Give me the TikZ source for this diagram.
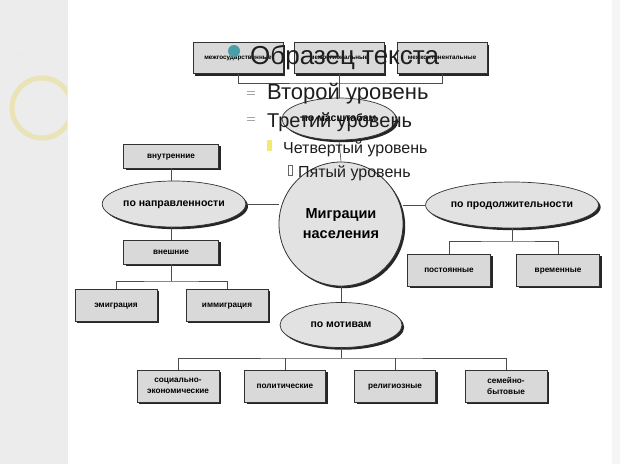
\documentclass[tikz,border=0pt]{standalone}
\usepackage{fontspec}
\setmainfont{Liberation Sans}
\usetikzlibrary{shapes.geometric,shadows}
\definecolor{strip}{HTML}{ECECEC}
\definecolor{ring}{HTML}{E9E3B6}
\definecolor{boxfill}{HTML}{D9D9D9}
\definecolor{ellfill}{HTML}{E2E2E2}
\definecolor{teal}{HTML}{4A9EA6}
\definecolor{txt}{HTML}{1E1E1E}
\tikzset{
  shd/.style={drop shadow={shadow xshift=2.2pt,shadow yshift=-2.2pt,fill=black!85,opacity=1}},
  box/.style={draw=black!80, line width=0.7pt, fill=boxfill, shd, inner sep=1pt, align=center,
    font=\bfseries\fontsize{8.2}{11}\selectfont},
  sbox/.style={box, text height=6pt, text depth=2pt},
  tbox/.style={box, minimum width=90pt, minimum height=31pt, text height=5pt, text depth=1.5pt,
    font=\bfseries\fontsize{6.3}{8}\selectfont},
  ell/.style={ellipse, draw=black!80, line width=0.7pt, fill=ellfill, shd, inner sep=0pt, align=center,
    text height=8pt, text depth=2.5pt, font=\bfseries\fontsize{10.5}{12}\selectfont},
  conn/.style={draw=black!70, line width=0.6pt},
  ph/.style={text=txt, inner sep=0pt, anchor=base west}
}
\begin{document}
\begin{tikzpicture}[x=1pt,y=-1pt]
\useasboundingbox (0,0) rectangle (620,464);
% background
\fill[white] (0,0) rectangle (620,464);
\fill[strip] (0,0) rectangle (68,464);
\fill[black!4] (612,0) rectangle (620,464);
\begin{scope}
\clip (0,0) rectangle (67,464);
\draw[ring, line width=5pt] (42,108) circle (30);
\draw[black!8, line width=0.8pt] (20,0) circle (55);
\end{scope}

% top group
\node[tbox] (b1) at (238,58) {межгосударственные};
\node[tbox] (b2) at (339,58) {межрегиональные};
\node[tbox] (b3) at (442,58) {межконтинентальные};
\node[ell, minimum width=114pt, minimum height=42pt] (te) at (339,119) {по масштабам};
\coordinate (tj) at (339,83);

% centre
\node[circle, draw=black!80, line width=0.8pt, fill=ellfill, shd, minimum size=124pt, inner sep=0pt, align=center,
  font=\bfseries\fontsize{14.5}{20}\selectfont] (c) at (341,224) {Миграции\\населения};

% left branch
\node[ell, minimum width=125pt, minimum height=46pt] (le) at (174,204) {по направленности};
\node[sbox, minimum width=95pt, minimum height=24pt] (vn) at (171,156) {внутренние};
\node[sbox, minimum width=95pt, minimum height=24pt] (ve) at (171,252) {внешние};
\node[sbox, minimum width=82pt, minimum height=32pt] (em) at (116,305) {эмиграция};
\node[sbox, minimum width=82pt, minimum height=32pt] (im) at (227,305) {иммиграция};

% right branch
\node[ell, minimum width=170pt, minimum height=46pt] (re) at (512,205) {по продолжительности};
\node[sbox, minimum width=83pt, minimum height=32pt] (po) at (449,270) {постоянные};
\node[sbox, minimum width=83pt, minimum height=32pt] (vr) at (558,270) {временные};

% bottom branch
\node[ell, minimum width=122pt, minimum height=45pt] (me) at (341,325) {по мотивам};
\node[box, minimum width=82pt, minimum height=32pt] (s1) at (178,386) {социально-\\экономические};
\node[sbox, minimum width=81pt, minimum height=32pt] (s2) at (285,386) {политические};
\node[sbox, minimum width=81pt, minimum height=32pt] (s3) at (395,386) {религиозные};
\node[box, minimum width=82pt, minimum height=32pt] (s4) at (506,386) {семейно-\\бытовые};

% connectors
\draw[conn] (b1.south) |- (tj) -| (b3.south);
\draw[conn] (b2.south) -- (te.north);
\draw[conn] (te.south) -- (c.north);
\draw[conn] (le.east) -- (le.east -| c.west);
\draw[conn] (re.west -| c.east) -- (re.west);
\draw[conn] (vn.south) -- (le.north -| vn.south);
\draw[conn] (le.south -| ve.north) -- (ve.north);
\coordinate (lj) at (171,281);
\draw[conn] (ve.south) -- (lj);
\draw[conn] (em.north) |- (lj) -| (im.north);
\coordinate (rj) at (512,241);
\draw[conn] (re.south) -- (rj);
\draw[conn] (po.north) |- (rj) -| (vr.north);
\draw[conn] (c.south) -- (me.north);
\coordinate (bj) at (341,358);
\draw[conn] (me.south) -- (bj);
\draw[conn] (s1.north) |- (bj) -| (s4.north);
\draw[conn] (s2.north) -- (s2.north |- bj);
\draw[conn] (s3.north) -- (s3.north |- bj);

% placeholder overlay text
\fill[teal] (234,51) circle (6);
\node[ph, font=\fontsize{26}{28}\selectfont] (t1) at (250,64) {Образец текста};
\draw[black!35, line width=0.8pt] (247,91) -- (255,91) (247,94) -- (255,94);
\node[ph, font=\fontsize{22}{24}\selectfont] (t2) at (267,99) {Второй уровень};
\draw[black!35, line width=0.8pt] (247,117) -- (255,117) (247,120) -- (255,120);
\node[ph, font=\fontsize{20}{22}\selectfont] (t3) at (267,127) {Третий уровень};
\fill[yellow!40!ring] (267,140) rectangle (272,151);
\node[ph, font=\fontsize{16}{18}\selectfont] (t4) at (283,153) {Четвертый уровень};
\draw[black!60, line width=0.5pt] (288,165) rectangle (292,175);
\node[ph, font=\fontsize{16}{18}\selectfont] (t5) at (298,177) {Пятый уровень};
\end{tikzpicture}
\end{document}
